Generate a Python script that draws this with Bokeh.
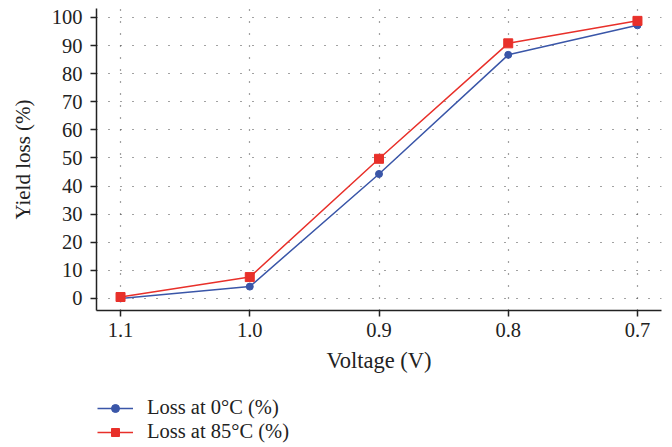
from bokeh.plotting import figure
from bokeh.layouts import column
from bokeh.models import Range1d, Legend, LegendItem, FixedTicker, SingleIntervalTicker
from bokeh.embed import file_html
from bokeh.resources import INLINE

voltage = [1.1, 1.0, 0.9, 0.8, 0.7]
loss_0c = [0.0, 4.2, 44.3, 86.7, 97.2]
loss_85c = [0.5, 7.6, 49.7, 90.8, 98.8]
x_ticks = [1.1, 1.0, 0.9, 0.8, 0.7]
x_tick_labels = {1.1: "1.1", 1.0: "1.0", 0.9: "0.9", 0.8: "0.8", 0.7: "0.7"}
series_labels = ["Loss at 0°C (%)", "Loss at 85°C (%)"]

FONT = "Liberation Serif"
BLUE = "#3a56a8"
RED = "#e8302a"
INK = "#222222"

p = figure(width=672, height=385, output_backend="svg", toolbar_location=None,
           x_range=Range1d(1.1186, 0.6814), y_range=Range1d(-4.3, 103.2),
           min_border_left=96, min_border_right=11, min_border_top=8, min_border_bottom=75)
p.outline_line_color = None

p.xaxis.ticker = FixedTicker(ticks=x_ticks)
p.xaxis.major_label_overrides = x_tick_labels
p.yaxis.ticker = SingleIntervalTicker(interval=10)
for ax in (p.xaxis, p.yaxis):
    ax.minor_tick_line_color = None
    ax.major_tick_in = 0
    ax.major_tick_out = 6
    ax.axis_line_color = INK
    ax.major_tick_line_color = INK
    ax.axis_line_width = 1.5
    ax.major_tick_line_width = 1.5
    ax.major_label_text_font = FONT
    ax.major_label_text_font_size = "20.5px"
    ax.major_label_text_color = INK
    ax.axis_label_text_font = FONT
    ax.axis_label_text_font_style = "normal"
    ax.axis_label_text_color = INK
p.xaxis.axis_label = "Voltage (V)"
p.yaxis.axis_label = "Yield loss (%)"
p.xaxis.axis_label_text_font_size = "22.5px"
p.yaxis.axis_label_text_font_size = "21px"
p.xaxis.major_label_standoff = 6
p.yaxis.major_label_standoff = 8
p.xaxis.axis_label_standoff = 8
p.yaxis.axis_label_standoff = 14

for g in (p.xgrid, p.ygrid):
    g.grid_line_color = "#444444"
    g.grid_line_dash = "1 11"
    g.grid_line_width = 1.2

p.line(voltage, loss_0c, line_color=BLUE, line_width=1.5)
p.scatter(voltage, loss_0c, marker="circle", size=7, fill_color=BLUE, line_color=BLUE)
p.line(voltage, loss_85c, line_color=RED, line_width=1.5)
p.scatter(voltage, loss_85c, marker="square", size=9, fill_color=RED, line_color=RED)

# legend panel below the chart (series drawn out of view; only the legend shows)
q = figure(width=672, height=62, output_backend="svg", toolbar_location=None,
           x_range=Range1d(10, 11), y_range=Range1d(1000, 1001),
           min_border_left=0, min_border_right=0, min_border_top=0, min_border_bottom=0)
q.axis.visible = False
q.grid.visible = False
q.outline_line_color = None
k0l = q.line(voltage, loss_0c, line_color=BLUE, line_width=1.5)
k0m = q.scatter(voltage, loss_0c, marker="circle", size=7, fill_color=BLUE, line_color=BLUE)
k1l = q.line(voltage, loss_85c, line_color=RED, line_width=1.5)
k1m = q.scatter(voltage, loss_85c, marker="square", size=9, fill_color=RED, line_color=RED)
legend = Legend(items=[LegendItem(label=series_labels[0], renderers=[k0l, k0m]),
                       LegendItem(label=series_labels[1], renderers=[k1l, k1m])],
                location=(1, 4), padding=0, margin=0, spacing=1,
                glyph_width=36, glyph_height=20, label_height=20,
                label_standoff=14, background_fill_alpha=0, border_line_color=None,
                label_text_font=FONT, label_text_font_size="20.5px", label_text_color=INK)
q.add_layout(legend, "center")

layout = column(p, q, spacing=0)
open("out.html", "w").write(file_html(layout, INLINE))
